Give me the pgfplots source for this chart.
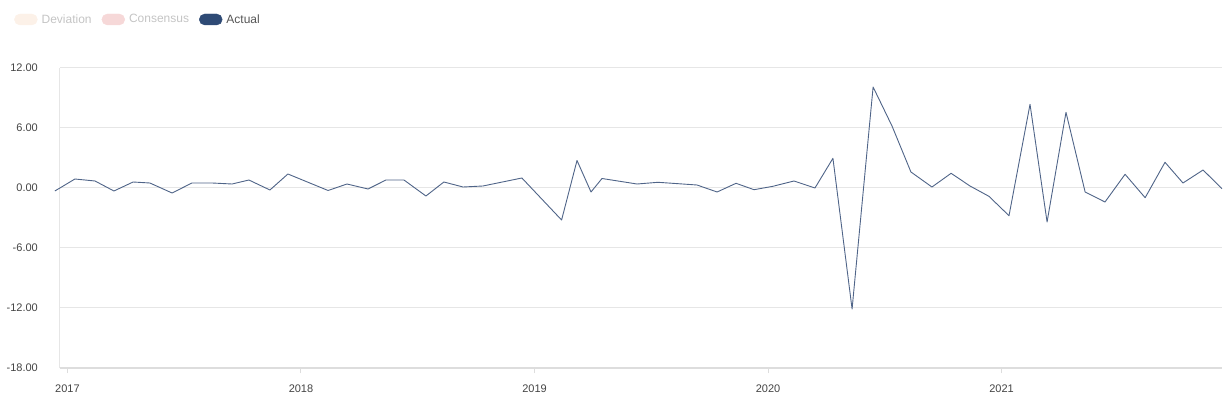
\documentclass[border=0pt]{standalone}
\usepackage{pgfplots}
\pgfplotsset{compat=1.18}
\usepackage{fontspec}
\setmainfont{Liberation Sans}
\definecolor{gridc}{HTML}{E6E6E6}
\definecolor{axc}{HTML}{DDDDDD}
\definecolor{linec}{HTML}{4F6488}
\definecolor{actualc}{HTML}{2E4A75}
\definecolor{devc}{HTML}{FCF1E8}
\definecolor{consc}{HTML}{F6D8D8}
\definecolor{distext}{HTML}{C4C4C4}
\definecolor{acttext}{HTML}{555555}
\definecolor{labc}{HTML}{444444}
\begin{document}
\begin{tikzpicture}
\useasboundingbox (-60bp,-32bp) rectangle (1172bp,368bp);
\begin{axis}[
  at={(0,0)}, anchor=south west,
  scale only axis, width=1162bp, height=300bp,
  xmin=2016.968, xmax=2021.944, ymin=-18, ymax=12,
  clip=false,
  axis x line*=bottom, axis y line*=left,
  x axis line style={axc, line width=1.5bp, -},
  y axis line style={gridc, line width=1bp, -},
  ytick={-18,-12,-6,0,6,12},
  ymajorgrids, grid style={gridc, line width=1bp},
  ytick style={draw=none},
  xtick={2017,2018,2019,2020,2021},
  xticklabels={2017,2018,2019,2020,2021},
  xtick style={axc, line width=1bp},
  tick align=outside, major tick length=5bp,
  yticklabel style={/pgf/number format/.cd, fixed, fixed zerofill, precision=2, assume math mode=true, /tikz/.cd, inner sep=0pt, anchor=east, xshift=-17bp, font=\fontsize{11bp}{13bp}\selectfont, text=labc},
  xticklabel style={inner sep=0pt, anchor=north, yshift=-11.5bp, font=\fontsize{11bp}{13bp}\selectfont, text=labc},
  legend columns=-1,
  legend style={at={(axis description cs:-0.0396,1.1617)}, anchor=west, draw=none, fill=none, inner sep=0pt,
    font=\fontsize{12bp}{14bp}\selectfont, nodes={inner sep=0pt},
    /tikz/every odd column/.style={column sep=4bp},
    /tikz/every even column/.style={column sep=10bp}},
]
\addlegendimage{legend image code/.code={\fill[devc, rounded corners=5.5bp] (0bp,-5.5bp) rectangle (23bp,5.5bp);}}
\addlegendentry{\textcolor{distext}{Deviation}}
\addlegendimage{legend image code/.code={\fill[consc, rounded corners=5.5bp] (0bp,-5.5bp) rectangle (23bp,5.5bp);}}
\addlegendentry{\textcolor{distext}{Consensus}}
\addlegendimage{legend image code/.code={\fill[actualc, rounded corners=5.5bp] (0bp,-5.5bp) rectangle (23bp,5.5bp);}}
\addlegendentry{\textcolor{acttext}{Actual}}
\addplot[linec, line width=0.9bp, line join=round, forget plot] coordinates {
(2016.946,-0.3) (2017.032,0.9) (2017.118,0.7) (2017.199,-0.3) (2017.281,0.6)
(2017.353,0.5) (2017.448,-0.5) (2017.533,0.5) (2017.619,0.5) (2017.705,0.4)
(2017.777,0.8) (2017.867,-0.2) (2017.944,1.4) (2018.116,-0.25) (2018.197,0.4)
(2018.287,-0.1) (2018.364,0.8) (2018.441,0.8) (2018.535,-0.8) (2018.612,0.6)
(2018.694,0.1) (2018.779,0.2) (2018.946,1.0) (2019.116,-3.2) (2019.182,2.75)
(2019.242,-0.4) (2019.289,0.95) (2019.439,0.4) (2019.529,0.57) (2019.696,0.3)
(2019.782,-0.4) (2019.863,0.47) (2019.940,-0.17) (2020.021,0.17) (2020.111,0.7)
(2020.201,0.0) (2020.278,2.97) (2020.360,-12.1) (2020.450,10.1) (2020.531,6.2)
(2020.612,1.6) (2020.702,0.1) (2020.784,1.47) (2020.865,0.2) (2020.946,-0.83)
(2021.032,-2.77) (2021.122,8.37) (2021.195,-3.4) (2021.276,7.57) (2021.358,-0.4)
(2021.443,-1.4) (2021.529,1.37) (2021.615,-0.97) (2021.700,2.57) (2021.777,0.5)
(2021.863,1.8) (2021.944,-0.07)
};
\end{axis}
\end{tikzpicture}
\end{document}
